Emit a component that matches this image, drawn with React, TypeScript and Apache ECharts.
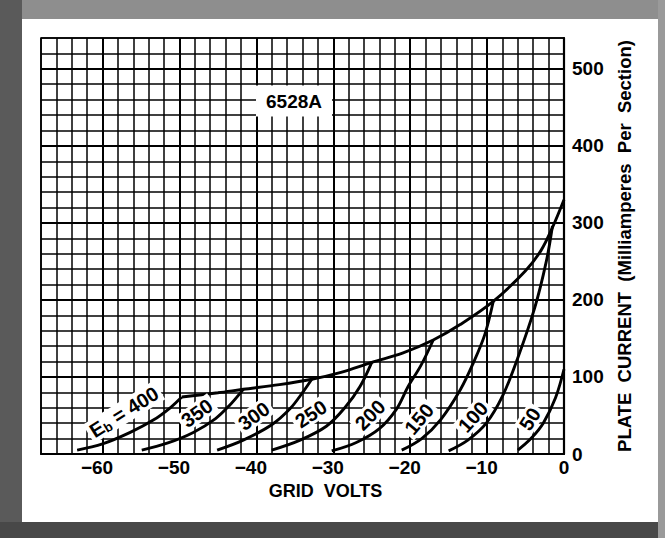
import React, { useEffect, useRef } from 'react';
import * as echarts from 'echarts';

// Grid-volt axis (V) and plate-current axis (mA)
const voltRange = [-68, 0];
const currentRange = [0, 540];
const majorVolts = [-60, -50, -40, -30, -20, -10];
const majorCurrents = [100, 200, 300, 400, 500];

// Transfer characteristics: [grid volts, plate current mA]
const eb400: [number, number][] = [[-63.3, 5], [-60, 13], [-56.4, 28], [-53.4, 44], [-51.2, 60], [-49.7, 74]];
const eb350: [number, number][] = [[-54.9, 5], [-51.6, 14], [-48.2, 28], [-45.3, 46], [-43.5, 63], [-41.7, 84]];
const eb300: [number, number][] = [[-45.1, 5], [-41.7, 18], [-38, 38], [-35.6, 59], [-33.9, 81], [-32.8, 97]];
const eb250: [number, number][] = [[-38, 5], [-34.3, 18], [-30.9, 36], [-28.5, 60], [-26.5, 88], [-25, 119]];
const eb200: [number, number][] = [[-30.2, 4], [-27, 15], [-24, 33], [-21.8, 58], [-20.3, 87], [-18.6, 115], [-17, 148]];
const eb150: [number, number][] = [[-21.1, 5], [-18.5, 20], [-16, 45], [-13.5, 83], [-11.8, 118], [-10.3, 155], [-9.2, 198]];
const eb100: [number, number][] = [[-15, 4], [-12.5, 18], [-10.1, 40], [-8, 75], [-6, 125], [-3.8, 190], [-2.3, 250], [-1.5, 296]];
const eb50: [number, number][] = [[-6, 5], [-4.3, 20], [-2.7, 40], [-1.1, 73], [0, 110]];
const envelope: [number, number][] = [
  [-49.7, 74], [-45, 79.5], [-41.7, 84], [-37, 90], [-32.8, 97], [-29, 106], [-25, 119],
  [-21, 131], [-17, 148], [-13.5, 168], [-9.2, 198], [-5, 238], [-3, 264], [-1.5, 294], [0, 330],
];
const curves = [eb400, eb350, eb300, eb250, eb200, eb150, eb100, eb50];

const FONT = '"Liberation Sans", Arial, Helvetica, sans-serif';

export default function App() {
  const ref = useRef<HTMLDivElement>(null);

  useEffect(() => {
    const chart = echarts.init(ref.current!, null, { renderer: 'svg' });

    const lineSeries = curves.map((d) => ({
      type: 'line',
      data: d,
      showSymbol: false,
      smooth: 0.35,
      lineStyle: { color: '#000', width: 2.9 },
      silent: true,
      z: 5,
    }));

    const curveLabel = (text: string, x: number, y: number, deg: number, rich?: any) => ({
      type: 'text',
      x,
      y,
      rotation: (deg * Math.PI) / 180,
      z: 100,
      style: {
        text,
        fill: '#000',
        font: `bold 20px ${FONT}`,
        align: 'center',
        verticalAlign: 'middle',
        backgroundColor: '#fff',
        padding: [0, 3],
        rich,
      },
    });

    const option: any = {
      animation: false,
      backgroundColor: '#fff',
      grid: {
        left: 41,
        right: 101,
        top: 38,
        bottom: 84,
        show: true,
        borderColor: '#000',
        borderWidth: 1.6,
        backgroundColor: '#fff',
      },
      xAxis: {
        type: 'value',
        min: voltRange[0],
        max: voltRange[1],
        interval: 2,
        position: 'bottom',
        axisLine: { show: true, onZero: false, lineStyle: { color: '#000', width: 2.2 } },
        axisTick: { show: false },
        splitLine: { show: true, lineStyle: { color: '#000', width: 1.5 } },
        axisLabel: {
          color: '#000',
          fontSize: 19,
          fontWeight: 'bold',
          fontFamily: FONT,
          margin: 4,
          formatter: (v: number) => {
            if (v % 10 !== 0) return '';
            if (v === 0) return '0';
            return `{m|\u2212}${Math.abs(v)}{p|}`;
          },
          rich: {
            m: { fontSize: 19, fontWeight: 'bold', fontFamily: FONT, color: '#000' },
            p: { width: 11 },
          },
        },
        name: 'GRID  VOLTS',
        nameLocation: 'middle',
        nameGap: 28,
        nameTextStyle: {
          color: '#000', fontSize: 18, fontWeight: 'bold', fontFamily: FONT, padding: [0, 0, 0, 46],
        },
      },
      yAxis: {
        type: 'value',
        min: currentRange[0],
        max: currentRange[1],
        interval: 20,
        position: 'right',
        axisLine: { show: true, lineStyle: { color: '#000', width: 2.2 } },
        axisTick: { show: false },
        splitLine: { show: true, lineStyle: { color: '#000', width: 1.5 } },
        axisLabel: {
          color: '#000',
          fontSize: 19,
          fontWeight: 'bold',
          fontFamily: FONT,
          margin: 8,
          formatter: (v: number) => (v % 100 === 0 ? String(v) : ''),
        },
        name: 'PLATE  CURRENT  (Milliamperes  Per  Section)',
        nameLocation: 'middle',
        nameRotate: 90,
        nameGap: 51,
        nameTextStyle: { color: '#000', fontSize: 18.5, fontWeight: 'bold', fontFamily: FONT },
      },
      series: [
        ...lineSeries,
        {
          type: 'line',
          data: envelope,
          showSymbol: false,
          smooth: 0.35,
          lineStyle: { color: '#000', width: 2.9 },
          silent: true,
          z: 5,
          markLine: {
            silent: true,
            symbol: ['none', 'none'],
            label: { show: false },
            lineStyle: { color: '#000', width: 2.0, type: 'solid' },
            z: 3,
            data: [
              ...majorVolts.map((v) => ({ xAxis: v })),
              ...majorCurrents.map((v) => ({ yAxis: v })),
            ],
          },
        },
      ],
      graphic: [
        // scanned page frame
        { type: 'rect', shape: { x: 0, y: 0, width: 665, height: 19 }, style: { fill: '#8e8e8e' }, z: 1 },
        { type: 'rect', shape: { x: 0, y: 0, width: 22, height: 538 }, style: { fill: '#5a5a5a' }, z: 1 },
        { type: 'rect', shape: { x: 0, y: 522, width: 665, height: 16 }, style: { fill: '#484848' }, z: 1 },
        { type: 'rect', shape: { x: 658, y: 0, width: 7, height: 538 }, style: { fill: '#9a9a9a' }, z: 1 },
        {
          type: 'text',
          x: 294,
          y: 101,
          z: 100,
          style: {
            text: '6528A',
            fill: '#000',
            font: `bold 19px ${FONT}`,
            align: 'center',
            verticalAlign: 'middle',
            backgroundColor: '#fff',
            padding: [6, 10],
          },
        },
        curveLabel('{e|E}{s|b}{e| = 400}', 124, 412, 32, {
          e: { fontSize: 20, fontWeight: 'bold', fontFamily: FONT, color: '#000', lineHeight: 22 },
          s: { fontSize: 13, fontWeight: 'bold', fontFamily: FONT, color: '#000', lineHeight: 22, verticalAlign: 'bottom', padding: [7, 0, 0, 0] },
        }),
        curveLabel('350', 197, 413, 36),
        curveLabel('300', 254, 416, 36),
        curveLabel('250', 311, 414, 34),
        curveLabel('200', 370, 415, 45),
        curveLabel('150', 419, 419, 50),
        curveLabel('100', 473, 417, 48),
        curveLabel('50', 530, 419, 57),
      ],
    };

    chart.setOption(option);
    return () => chart.dispose();
  }, []);

  return (
    <div
      ref={ref}
      style={{ position: 'fixed', left: 0, top: 0, width: 665, height: 538, background: '#fff' }}
    />
  );
}
